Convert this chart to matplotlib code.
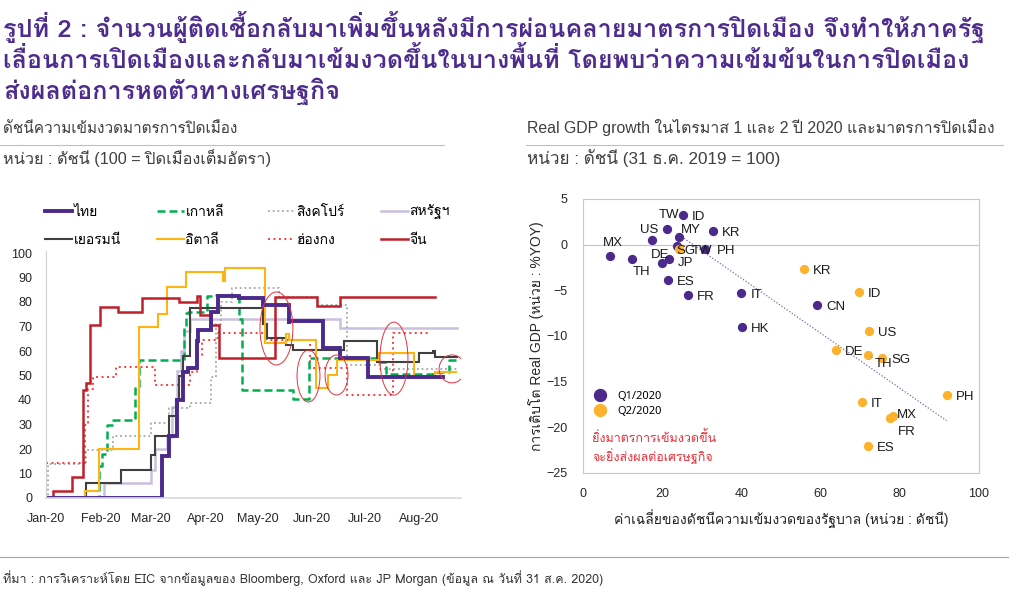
import numpy as np
import pandas as pd
import matplotlib
matplotlib.use('Agg')
import matplotlib.pyplot as plt
import matplotlib.dates as mdates
from matplotlib import font_manager
from matplotlib.ft2font import FT2Font
from matplotlib.patches import Ellipse
from matplotlib.lines import Line2D


def pick_thai_font(cands):
    # need a font with the legacy positional glyphs (no complex shaping in matplotlib)
    for fam in cands:
        try:
            path = font_manager.findfont(font_manager.FontProperties(family=fam), fallback_to_default=False)
            ft = FT2Font(path)
            cmap = ft.get_charmap()
            if not all(c in cmap for c in (0xF701, 0xF705, 0xF70A, 0xF713)):
                continue
            ft.set_size(48, 72)
            if ft.load_char(0x0E48).bbox[1] > ft.load_char(0xF70A).bbox[1]:
                return fam
        except Exception:
            continue
    return None


THAI = pick_thai_font(['Sarabun', 'Krub', 'Niramit', 'K2D', 'Loma', 'Athiti', 'Bai Jamjuree', 'Kodchasan',
                       'KoHo', 'Mitr', 'Prompt', 'Kanit'])
USE_PUA = THAI is not None
if THAI is None:
    THAI = 'Noto Sans Thai Looped'

TONES = '\u0e48\u0e49\u0e4a\u0e4b\u0e4c'
UPPER = {'\u0e34': 0xF701, '\u0e35': 0xF702, '\u0e36': 0xF703, '\u0e37': 0xF704,
         '\u0e31': 0xF710, '\u0e4d': 0xF711, '\u0e47': 0xF712}
ASC = '\u0e1b\u0e1d\u0e1f\u0e2c'


def th(s):
    if not USE_PUA:
        return s
    out, base, up = [], '', False
    for ch in s:
        if ch in TONES:
            i = TONES.index(ch)
            if up:
                ch = chr(0xF713 + i) if base in ASC else ch
            else:
                ch = chr(0xF705 + i) if base in ASC else chr(0xF70A + i)
        elif ch in UPPER:
            if base in ASC:
                ch = chr(UPPER[ch])
            up = True
        elif '\u0e38' <= ch <= '\u0e3a':
            pass
        else:
            base, up = ch, False
        out.append(ch)
    return ''.join(out)


FONT = ['Liberation Sans', THAI, 'DejaVu Sans']
plt.rcParams['font.family'] = FONT

W, H = 1021, 597
start = pd.Timestamp('2020-01-01')

# ---- left chart: lockdown stringency index (day offset from 1 Jan 2020, level from that day)
thai_days = [0, 66, 70, 75, 78, 81, 86, 87, 94.5, 98, 110, 124, 138.5, 139, 158, 168, 184, 227]
thai_vals = [0, 17, 25.5, 40, 51.6, 53, 64, 68.6, 76, 82.5, 81.5, 78.8, 71, 72.2, 61.1, 57, 49.5, 49.5]

korea_days = [0, 30, 32, 35, 38, 51, 53, 79, 80, 81, 92, 96, 110, 112, 141, 150, 190, 194, 221, 230, 234]
korea_vals = [0, 13, 18, 30, 32, 45, 56.3, 70, 75.5, 76, 82.5, 83, 73, 44.1, 40.5, 57.3, 55.6, 50.5, 51.5, 56.5, 56.5]

sing_days = [0, 1, 23, 38, 60, 70, 82, 94, 97, 100, 106, 133, 155, 172, 191, 236]
sing_vals = [0, 13.9, 19.7, 25.3, 30.5, 36.6, 38.9, 49.5, 71, 80, 85.9, 82, 78.7, 54.3, 52.7, 52.7]

us_days = [0, 33, 60, 62, 69, 72, 75, 77, 79, 82, 168, 235]
us_vals = [0, 6, 11.5, 20, 25, 37, 52, 60, 68, 73, 69.5, 69.5]

ger_days = [0, 23, 43, 60, 62, 70, 74, 76, 78, 82, 124, 126, 137, 141, 170, 189, 213, 221, 222, 235]
ger_vals = [0, 6, 11.5, 17.5, 25.5, 33.3, 40, 50, 58, 77.5, 71, 65.2, 62.4, 60.4, 64.1, 55.6, 59, 60, 57.5, 57.5]

italy_days = [0, 22, 30, 53, 64, 69, 80, 101, 102, 125, 137, 139, 154, 161, 166, 190, 210, 222, 234]
italy_vals = [0, 3, 20, 70, 75, 86, 92.4, 88.5, 94, 63.2, 67, 64.5, 44.8, 50.2, 56.3, 59, 48.8, 51.6, 51.6]

hk_days = [0, 22, 24, 27, 40, 62, 82, 86, 89, 98, 126, 151, 172, 198, 220]
hk_vals = [14.3, 30, 44.5, 49.5, 53.3, 46, 51.6, 58, 64.5, 67.2, 64.5, 53.2, 42, 67.2, 67.2]

china_days = [0, 4, 15, 21, 23, 25, 31, 41, 55, 76, 86, 88, 94, 99, 131, 155, 168, 222]
china_vals = [0, 3, 8.5, 44, 47, 70.5, 78, 76, 81.5, 80, 82.5, 74.5, 70.5, 57.3, 82, 78.5, 82.2, 82.2]

# highlighted areas: centre day, centre level, width (days), height (index)
circles = [(131.6, 69.2, 18.8, 29.8), (149.9, 49.8, 13.1, 21.2), (165.9, 50.2, 13.1, 16.3),
           (198.7, 56.9, 16.0, 29.8), (231.9, 52.7, 14.8, 11.4)]

# ---- right chart: avg stringency vs real GDP growth (%YOY)
q1_names = ['TW', 'ID', 'KR', 'MY', 'US', 'SG', 'PH', 'MX', 'JP', 'TH', 'DE', 'ES', 'IT', 'FR', 'CN', 'HK']
q1_x = [21.1, 25.2, 32.9, 24.2, 17.3, 23.7, 30.8, 6.8, 21.8, 12.3, 20.0, 21.4, 40.0, 26.4, 59.1, 40.2]
q1_y = [1.75, 3.21, 1.53, 0.87, 0.47, -0.12, -0.48, -1.25, -1.54, -1.61, -2.02, -3.91, -5.34, -5.56, -6.66, -8.96]

q2_names = ['TW', 'KR', 'ID', 'US', 'DE', 'TH', 'SG', 'PH', 'IT', 'MX', 'FR', 'ES']
q2_x = [24.2, 55.7, 69.7, 72.1, 63.8, 71.9, 75.6, 91.8, 70.4, 78.4, 77.4, 71.9]
q2_y = [-0.52, -2.71, -5.16, -9.47, -11.55, -12.06, -12.4, -16.43, -17.21, -18.79, -18.93, -22.04]

# label offsets in px (default: right of the point)
q1_off = {'TW': (-8, 14), 'MY': (2, 7), 'US': (-12, 10), 'SG': (0, -5), 'MX': (-7, 13),
          'TH': (1, -13), 'DE': (-11, 8), 'JP': (9, -4), 'PH': (12, -2)}
q2_off = {'TW': (13, -2), 'TH': (7, -9), 'MX': (3, 1), 'FR': (8, -14)}

PURPLE = '#4B2A8C'
ORANGE = '#FDB22B'


def fx(px):
    return px / W


def fy(py):
    return 1 - py / H


def to_dates(days):
    return [start + pd.Timedelta(days=d) for d in days]


fig = plt.figure(figsize=(W / 100, H / 100), dpi=100)
renderer = fig.canvas.get_renderer()


def fit(t, target, lo=6, hi=30):
    w = t.get_window_extent(renderer).width
    t.set_fontsize(min(max(t.get_fontsize() * target / w, lo), hi))
    return t.get_fontsize()


# title
title_lines = ['รูปที่ 2 : จำนวนผู้ติดเชื้อกลับมาเพิ่มขึ้นหลังมีการผ่อนคลายมาตรการปิดเมือง จึงทำให้ภาครัฐ',
               'เลื่อนการเปิดเมืองและกลับมาเข้มงวดขึ้นในบางพื้นที่ โดยพบว่าความเข้มข้นในการปิดเมือง',
               'ส่งผลต่อการหดตัวทางเศรษฐกิจ']
tts = [fig.text(fx(3), fy(37 + 31 * i), th(t), family=[THAI, 'Liberation Sans'], fontsize=18,
                weight='bold', color='#4E2C8E', va='baseline') for i, t in enumerate(title_lines)]
fs = fit(tts[0], 982)
for t in tts[1:]:
    t.set_fontsize(fs)

heads = [(3, 133, 'ดัชนีความเข้มงวดมาตรการปิดเมือง', 235),
         (3, 164, 'หน่วย : ดัชนี (100 = ปิดเมืองเต็มอัตรา)', 269),
         (527, 133, 'Real GDP growth ในไตรมาส 1 และ 2 ปี 2020 และมาตรการปิดเมือง', 470),
         (527, 164, 'หน่วย : ดัชนี (31 ธ.ค. 2019 = 100)', 253)]
for hx, hy, t, wpx in heads:
    fit(fig.text(fx(hx), fy(hy), th(t), fontsize=12, color='#404040', va='baseline'), wpx, 10, 13)

fig.add_artist(Line2D([fx(0), fx(444)], [fy(145), fy(145)], color='#BFBFBF', lw=0.8))
fig.add_artist(Line2D([fx(526), fx(1003)], [fy(145), fy(145)], color='#BFBFBF', lw=0.8))
fig.add_artist(Line2D([fx(0), fx(1008)], [fy(557), fy(557)], color='#A6A6A6', lw=0.8))
fig.text(fx(3), fy(583), th('ที่มา : การวิเคราะห์โดย EIC จากข้อมูลของ Bloomberg, Oxford และ JP Morgan (ข้อมูล ณ วันที่ 31 ส.ค. 2020)'),
         family=[THAI, 'Liberation Sans'], fontsize=9, color='#333333', va='baseline')

# ---- left chart
ax = fig.add_axes([fx(46), fy(498), fx(461) - fx(46), fy(253) - fy(498)])
series = [
    ('สหรัฐฯ', us_days, us_vals, dict(color='#C9C0DE', lw=1.8, ls='-')),
    ('สิงคโปร์', sing_days, sing_vals, dict(color='#A6A6A6', lw=1.3, ls=(0, (1, 1.6)))),
    ('ฮ่องกง', hk_days, hk_vals, dict(color='#FF3B3B', lw=1.4, ls=(0, (1, 1.8)))),
    ('เกาหลี', korea_days, korea_vals, dict(color='#00B050', lw=1.8, ls=(0, (3.2, 1.6)))),
    ('เยอรมนี', ger_days, ger_vals, dict(color='#404040', lw=1.5, ls='-')),
    ('อิตาลี', italy_days, italy_vals, dict(color='#FDB515', lw=1.5, ls='-')),
    ('จีน', china_days, china_vals, dict(color='#C0202A', lw=1.8, ls='-')),
    ('ไทย', thai_days, thai_vals, dict(color=PURPLE, lw=2.8, ls='-')),
]
handles = {}
for name, d, v, st in series:
    ln, = ax.plot(to_dates(d), v, drawstyle='steps-post', solid_joinstyle='miter', **st)
    handles[name] = ln

for cd, cv, wd, hv in circles:
    c = mdates.date2num(start + pd.Timedelta(days=cd))
    ax.add_patch(Ellipse((c, cv), wd, hv, fill=False, ec='#E8303A', lw=0.7, zorder=5))

ax.set_ylim(0, 100)
ax.set_xlim(mdates.date2num(start), mdates.date2num(start + pd.Timedelta(days=237)))
ax.set_yticks(range(0, 101, 10))
ax.xaxis.set_major_locator(mdates.MonthLocator())
ax.xaxis.set_major_formatter(mdates.DateFormatter('%b-%y'))
ax.tick_params(length=0, labelsize=9, labelcolor='#262626')
ax.tick_params(axis='y', pad=10)
ax.tick_params(axis='x', pad=11)
for s in ['top', 'right']:
    ax.spines[s].set_visible(False)
ax.spines['left'].set_color('#D0D0D0')
ax.spines['left'].set_linewidth(0.8)
ax.spines['bottom'].set_color('#D9D9D9')
ax.spines['bottom'].set_linewidth(1.2)
ax.spines['left'].set_bounds(0, 101)

# legend entries, 2 rows x 4 columns
leg_order = [['ไทย', 'เกาหลี', 'สิงคโปร์', 'สหรัฐฯ'], ['เยอรมนี', 'อิตาลี', 'ฮ่องกง', 'จีน']]
col_x = [45, 157, 268, 381]
row_y = [212, 240]
for r, row in enumerate(leg_order):
    for c, name in enumerate(row):
        fig.legend([handles[name]], [th(name)], loc='center left', bbox_to_anchor=(fx(col_x[c]), fy(row_y[r])),
                   frameon=False, fontsize=10, handlelength=1.95, handletextpad=0.1, borderpad=0,
                   borderaxespad=0)

# ---- right chart
ax2 = fig.add_axes([fx(583), fy(473), fx(979) - fx(583), fy(199) - fy(473)])
ax2.axhline(0, color='#C8C8C8', lw=0.9, zorder=1)
ax2.scatter(q1_x, q1_y, s=32, color=PURPLE, zorder=3)
ax2.scatter(q2_x, q2_y, s=32, color=ORANGE, zorder=3)
k, b = np.polyfit(q2_x, q2_y, 1)
tx = np.array([min(q2_x), max(q2_x)])
ax2.plot(tx, k * tx + b, color='#7A6BB0', lw=0.9, ls=(0, (1, 1.5)), zorder=2)

for names, xs, ys, offs in [(q1_names, q1_x, q1_y, q1_off), (q2_names, q2_x, q2_y, q2_off)]:
    for n, x, y in zip(names, xs, ys):
        dx, dy = offs.get(n, (9, -2))
        kw = {}
        if names is q2_names and n == 'TH':
            kw = dict(arrowprops=dict(arrowstyle='-', color='#A6A6A6', lw=0.7, shrinkA=0, shrinkB=2))
        ax2.annotate(n, (x, y), xytext=(dx * 0.72, dy * 0.72), textcoords='offset points',
                     ha='left', va='center', fontsize=9.5, color='#1A1A1A', zorder=4, **kw)

ax2.set_xlim(0, 100)
ax2.set_ylim(-25, 5)
ax2.set_xticks(range(0, 101, 20))
ax2.set_yticks(range(-25, 6, 5))
ax2.tick_params(length=0, labelsize=9, labelcolor='#262626')
ax2.tick_params(axis='y', pad=11)
ax2.tick_params(axis='x', pad=11)
for s in ax2.spines.values():
    s.set_color('#C8C8C8')
    s.set_linewidth(0.8)
ax2.set_xlabel(th('ค่าเฉลี่ยของดัชนีความเข้มงวดของรัฐบาล (หน่วย : ดัชนี)'), fontsize=10, color='#262626',
               labelpad=7)
ax2.set_ylabel(th('การเติบโต Real GDP (หน่วย : %YOY)'), fontsize=10, color='#262626')
ax2.yaxis.set_label_coords(-0.098, 0.5)

leg_h = [Line2D([], [], ls='none', marker='o', ms=8.6, color=PURPLE),
         Line2D([], [], ls='none', marker='o', ms=8.6, color=ORANGE)]
ax2.legend(leg_h, ['Q1/2020', 'Q2/2020'], loc='center left', bbox_to_anchor=(0.03, 0.252), frameon=False,
           prop=dict(family=['Noto Sans', 'DejaVu Sans'], size=8), handlelength=1.0, handletextpad=1.0,
           labelspacing=0.35, borderpad=0, borderaxespad=0)
for yy, t in [(0.128, 'ยิ่งมาตรการเข้มงวดขึ้น'), (0.062, 'จะยิ่งส่งผลต่อเศรษฐกิจ')]:
    ax2.text(0.025, yy, th(t), transform=ax2.transAxes, fontsize=9, color='#E8303A',
             va='center', family=[THAI, 'Liberation Sans'])

fig.savefig('out.png', dpi=100)
